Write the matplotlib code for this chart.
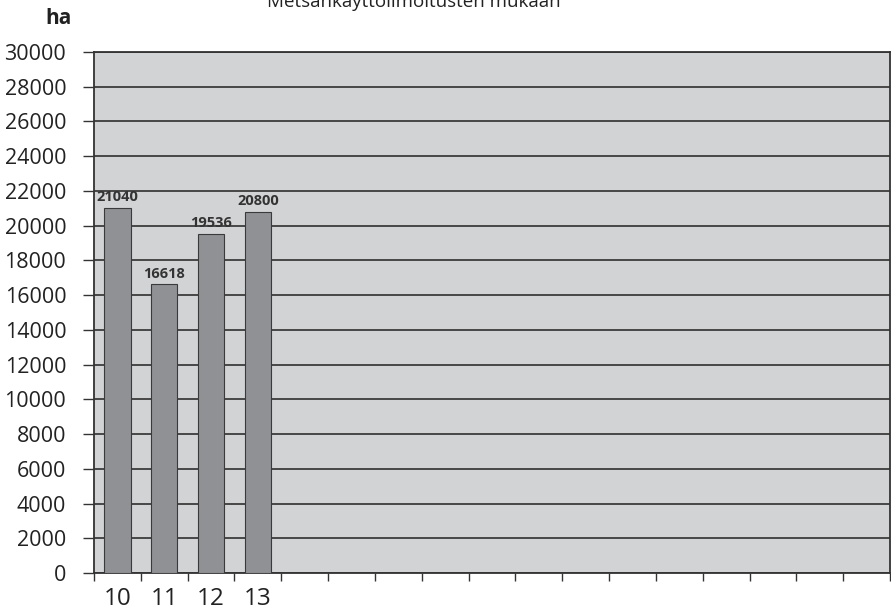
import matplotlib.pyplot as plt
import numpy as np

plt.rcParams['font.family'] = ['Open Sans', 'DejaVu Sans']

years = ['10', '11', '12', '13']
area_ha = [21040, 16618, 19536, 20800]
n_slots = 17                      # empty slots for the coming years
y_ticks = list(range(0, 30001, 2000))

fig = plt.figure(figsize=(8.91, 6.11), dpi=100)
ax = fig.add_axes([94 / 891, 1 - 573 / 611, 796 / 891, 521 / 611])

ax.set_facecolor('#d2d3d5')
x = np.arange(len(years))
bars = ax.bar(x, area_ha, width=0.56, color='#909195', edgecolor='#3a3a3a',
              linewidth=0.8, zorder=3)
for b, v in zip(bars, area_ha):
    ax.text(b.get_x() + b.get_width() / 2, v + 200, str(v), ha='center',
            va='bottom', fontsize=10.5, fontweight='bold', color='#333333', zorder=4)

ax.set_xlim(-0.5, n_slots - 0.5)
ax.set_ylim(0, 30000)
ax.set_yticks(y_ticks)
ax.set_yticklabels([str(t) for t in y_ticks], fontsize=15.5, color='#222222')
ax.yaxis.grid(True, color='#3c3c3c', linewidth=1.3, zorder=1)
ax.set_axisbelow(True)

# tick marks between categories, labels at category centres
ax.set_xticks(np.arange(-0.5, n_slots, 1.0))
ax.set_xticklabels([])
ax.set_xticks(x, minor=True)
ax.set_xticklabels(years, minor=True, fontsize=17.5, color='#222222')
ax.tick_params(axis='x', which='major', length=6, width=1, color='#333333', direction='out')
ax.tick_params(axis='x', which='minor', length=0, pad=10)
ax.tick_params(axis='y', length=8, width=1, color='#333333', pad=12)

for s in ax.spines.values():
    s.set_color('#333333')
    s.set_linewidth(1.3)

fig.text(72 / 891, 1 - 18 / 611, 'ha', ha='right', va='center', fontsize=15,
         fontweight='bold', color='#222222')
fig.text(414 / 891, 1 - 7 / 611, 'Metsänkäyttöilmoitusten mukaan', ha='center',
         va='baseline', fontsize=13.5, color='#222222')

fig.savefig('out.png', dpi=100)
